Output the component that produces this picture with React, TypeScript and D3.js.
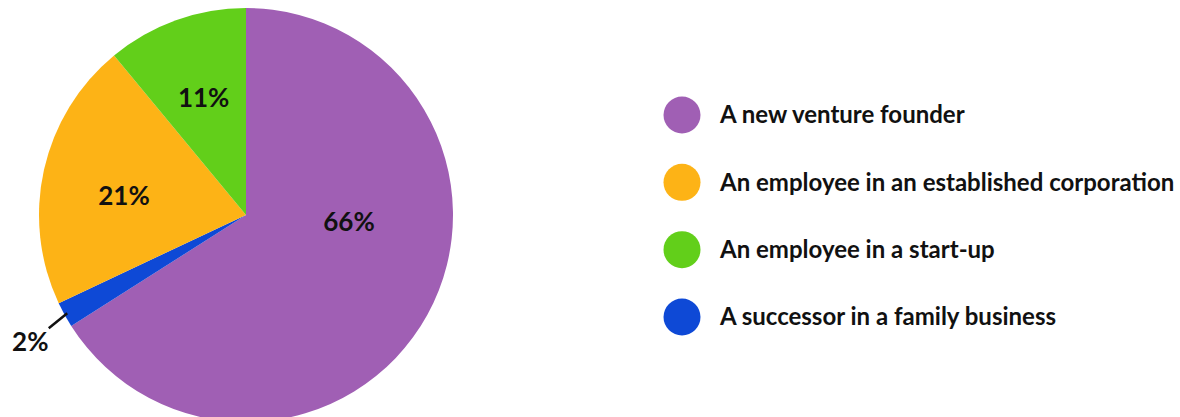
import React from "react";
import * as d3 from "d3";

const categories = [
  "A new venture founder",
  "A successor in a family business",
  "An employee in an established corporation",
  "An employee in a start-up",
];
const values = [66, 2, 21, 11];
const colors = ["#A05FB4", "#0E49D6", "#FDB316", "#62CF1A"];
const legendOrder = [0, 2, 3, 1];

const W = 1180;
const H = 417;
const cx = 246;
const cy = 215;
const R = 207;
const FONT = "Lato, 'Noto Sans', sans-serif";

export default function App() {
  const pie = d3.pie<number>().sort(null).value((d) => d)(values);
  const arc = d3.arc<d3.PieArcDatum<number>>().innerRadius(0).outerRadius(R);
  const legendY = d3.scalePoint<number>().domain(legendOrder).range([115, 317]);

  const labelPos = (i: number, d: d3.PieArcDatum<number>): [number, number] => {
    const mid = (d.startAngle + d.endAngle) / 2;
    if (i === 0) return [103, 7];
    if (i === 2) return [125 * Math.sin(mid), -125 * Math.cos(mid) + 8];
    return [125 * Math.sin(mid), -125 * Math.cos(mid)];
  };

  return (
    <svg width={W} height={H} style={{ position: "absolute", left: 0, top: 0 }}>
      <g transform={`translate(${cx},${cy})`}>
        {pie.map((d, i) => (
          <path key={i} d={arc(d) || ""} fill={colors[i]} />
        ))}
        {pie.map((d, i) => {
          if (i === 1) {
            const mid = (d.startAngle + d.endAngle) / 2;
            const p1 = [(R - 3) * Math.sin(mid), -(R - 3) * Math.cos(mid)];
            const p2 = [p1[0] - 18.5, p1[1] + 15];
            return (
              <g key={i}>
                <line x1={p1[0]} y1={p1[1]} x2={p2[0]} y2={p2[1]} stroke="#111" strokeWidth={2.5} />
                <text
                  x={p2[0] - 18.5}
                  y={p2[1] + 14}
                  dy="0.35em"
                  textAnchor="middle"
                  fontFamily={FONT}
                  fontWeight={700}
                  fontSize={26}
                  fill="#111"
                >
                  {values[i]}%
                </text>
              </g>
            );
          }
          const [x, y] = labelPos(i, d);
          return (
            <text
              key={i}
              x={x}
              y={y}
              dy="0.35em"
              textAnchor="middle"
              fontFamily={FONT}
              fontWeight={700}
              fontSize={26}
              fill="#111"
            >
              {values[i]}%
            </text>
          );
        })}
      </g>
      {legendOrder.map((i) => (
        <g key={i} transform={`translate(682,${legendY(i)})`}>
          <circle r={18.5} fill={colors[i]} />
          <text
            x={38}
            dy="0.35em"
            fontFamily={FONT}
            fontWeight={700}
            fontSize={24}
            fill="#111"
          >
            {categories[i]}
          </text>
        </g>
      ))}
    </svg>
  );
}
